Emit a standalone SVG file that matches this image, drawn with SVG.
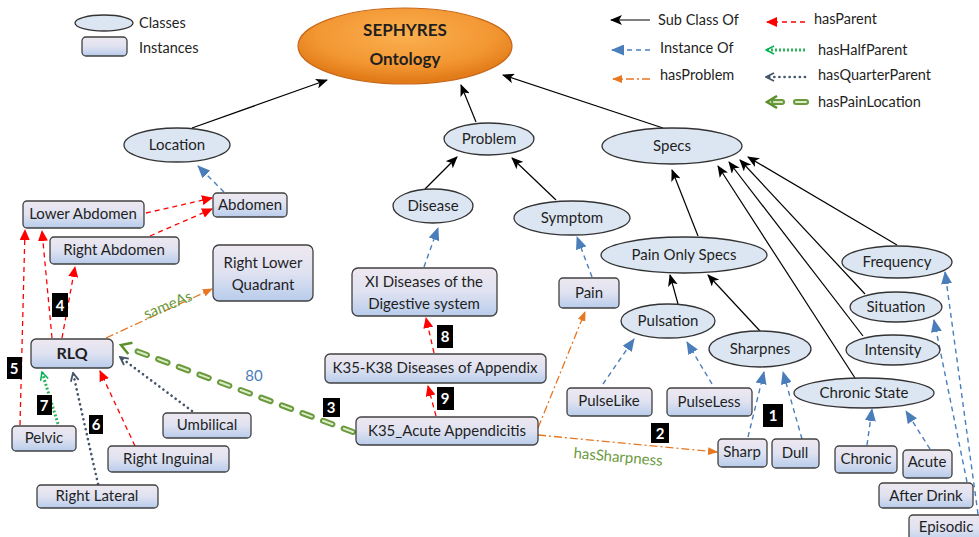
<svg xmlns="http://www.w3.org/2000/svg" width="979" height="537" viewBox="0 0 979 537">
<defs>
<linearGradient id="gInst" x1="0" y1="0" x2="0" y2="1">
<stop offset="0" stop-color="#eee8f0"/><stop offset="0.5" stop-color="#dfe2f1"/><stop offset="1" stop-color="#b8cceb"/>
</linearGradient>
<radialGradient id="gOr" cx="0.5" cy="0.35" r="0.6">
<stop offset="0" stop-color="#fbb050"/><stop offset="0.7" stop-color="#f29632"/><stop offset="1" stop-color="#e27c18"/>
</radialGradient>
<marker id="aK" markerWidth="12" markerHeight="10" refX="11" refY="5" orient="auto" markerUnits="userSpaceOnUse"><path d="M0,0 L12,5 L0,10 L3,5 z" fill="#000"/></marker>
<marker id="aBl" markerWidth="13" markerHeight="11" refX="12" refY="5.5" orient="auto" markerUnits="userSpaceOnUse"><path d="M0,0 L13,5.5 L0,11 z" fill="#4a7ebb"/></marker>
<marker id="aR" markerWidth="11" markerHeight="10" refX="10" refY="5" orient="auto" markerUnits="userSpaceOnUse"><path d="M0,0 L11,5 L0,10 z" fill="#ff0000"/></marker>
<marker id="aO" markerWidth="10" markerHeight="8" refX="9" refY="4" orient="auto" markerUnits="userSpaceOnUse"><path d="M0,0 L10,4 L0,8 z" fill="#e87722"/></marker>
<marker id="aG" markerWidth="10" markerHeight="10" refX="9" refY="5" orient="auto" markerUnits="userSpaceOnUse"><path d="M1,1 L9,5 L1,9" fill="none" stroke="#00b050" stroke-width="1.5"/></marker>
<marker id="aQ" markerWidth="10" markerHeight="10" refX="9" refY="5" orient="auto" markerUnits="userSpaceOnUse"><path d="M1,1 L9,5 L1,9" fill="none" stroke="#44546a" stroke-width="1.8"/></marker>
<marker id="aP" markerWidth="14" markerHeight="14" refX="12" refY="7" orient="auto" markerUnits="userSpaceOnUse"><path d="M2,1 L12,7 L2,13" fill="none" stroke="#5b8f2c" stroke-width="2.5"/></marker>
<style>
text{font-family:"Lato","Noto Sans",sans-serif;font-size:15px;fill:#1f1f1f;text-anchor:middle}
.cls{fill:#dce6f2;stroke:#333;stroke-width:1.3}
.ins{fill:url(#gInst);stroke:#404040;stroke-width:1.3}
.sub{stroke:#000;stroke-width:1.2;fill:none;marker-end:url(#aK)}
.io{stroke:#4a7ebb;stroke-width:1.4;stroke-dasharray:5 4;fill:none;marker-end:url(#aBl)}
.par{stroke:#ff0000;stroke-width:1.3;stroke-dasharray:5 4;fill:none;marker-end:url(#aR)}
.prob{stroke:#e87722;stroke-width:1.3;stroke-dasharray:8 3 2 3;fill:none;marker-end:url(#aO)}
.half{stroke:#2eb35a;stroke-width:3;stroke-dasharray:2 2;fill:none;marker-end:url(#aG)}
.qp{stroke:#44546a;stroke-width:2.6;stroke-dasharray:0.1 5;stroke-linecap:round;fill:none;marker-end:url(#aQ)}
.pl{stroke:#6a9a3c;stroke-width:6;stroke-dasharray:10 12;stroke-linecap:round;fill:none}
.pli{stroke:#dcecc8;stroke-width:2;stroke-dasharray:10 12;stroke-linecap:round;fill:none}
.plh{stroke:none;fill:none;marker-end:url(#aP)}
.bd rect{fill:#000}
.bd text{fill:#fff;font-weight:bold;font-size:15px}
.lg{text-anchor:start;font-size:14.5px}
.gl{fill:#6a9a3c;font-size:15px}
</style>
</defs>
<rect width="979" height="537" fill="#fff"/>

<g id="legend">
<ellipse class="cls" cx="104" cy="23" rx="29" ry="8"/>
<text class="lg" x="139" y="28">Classes</text>
<rect class="ins" x="82" y="37" width="45" height="19" rx="4"/>
<text class="lg" x="139" y="53">Instances</text>
<line class="sub" x1="650" y1="20" x2="611" y2="20"/>
<text class="lg" x="658" y="25">Sub Class Of</text>
<line class="io" x1="650" y1="50" x2="612" y2="50"/>
<text class="lg" x="660" y="53">Instance Of</text>
<line class="prob" x1="650" y1="79" x2="613" y2="79"/>
<text class="lg" x="660" y="80">hasProblem</text>
<line class="par" x1="805" y1="22" x2="767" y2="22"/>
<text class="lg" x="814" y="24">hasParent</text>
<line class="half" x1="805" y1="50" x2="766" y2="50"/>
<text class="lg" x="818" y="55">hasHalfParent</text>
<line class="qp" x1="805" y1="77" x2="766" y2="77"/>
<text class="lg" x="818" y="80">hasQuarterParent</text>
<line class="pl" x1="806" y1="102" x2="796" y2="102" style="stroke-dasharray:none"/>
<line class="pli" x1="806" y1="102" x2="796" y2="102" style="stroke-dasharray:none"/>
<line class="pl" x1="782" y1="102" x2="774" y2="102" style="stroke-dasharray:none"/>
<line class="pli" x1="782" y1="102" x2="774" y2="102" style="stroke-dasharray:none"/>
<line class="plh" x1="790" y1="102" x2="767" y2="102" style="stroke:#5b8f2c;stroke-width:0.1"/>
<text class="lg" x="818" y="107">hasPainLocation</text>
</g>

<g id="connectors">
<line class="sub" x1="192" y1="128" x2="327" y2="80"/>
<line class="sub" x1="476" y1="122" x2="461" y2="85"/>
<line class="sub" x1="663" y1="128" x2="503" y2="75"/>
<line class="sub" x1="425" y1="189" x2="457" y2="157"/>
<line class="sub" x1="556" y1="200" x2="512" y2="158"/>
<line class="sub" x1="698" y1="236" x2="672" y2="170"/>
<line class="sub" x1="678" y1="304" x2="670" y2="275"/>
<line class="sub" x1="760" y1="331" x2="708" y2="275"/>
<line class="sub" x1="855" y1="378" x2="718" y2="166"/>
<line class="sub" x1="863" y1="336" x2="729" y2="162"/>
<line class="sub" x1="865" y1="294" x2="740" y2="160"/>
<line class="sub" x1="897" y1="245" x2="748" y2="157"/>

<line class="io" x1="224" y1="192" x2="198" y2="166"/>
<line class="io" x1="424" y1="267" x2="438" y2="228"/>
<line class="io" x1="592" y1="277" x2="577" y2="237"/>
<line class="io" x1="603" y1="384" x2="634" y2="339"/>
<line class="io" x1="712" y1="384" x2="687" y2="342"/>
<line class="io" x1="748" y1="437" x2="764" y2="372"/>
<line class="io" x1="802" y1="439" x2="783" y2="372"/>
<line class="io" x1="867" y1="445" x2="872" y2="409"/>
<line class="io" x1="930" y1="449" x2="906" y2="411"/>
<line class="io" x1="967" y1="482" x2="934" y2="320"/>
<line class="io" x1="978" y1="514" x2="945" y2="272"/>

<line class="par" x1="146" y1="213" x2="212" y2="198"/>
<line class="par" x1="150" y1="236" x2="212" y2="209"/>
<line class="par" x1="62" y1="338" x2="75" y2="267"/>
<line class="par" x1="52" y1="338" x2="42" y2="231"/>
<line class="par" x1="20" y1="425" x2="25" y2="230"/>
<line class="par" x1="135" y1="446" x2="100" y2="371"/>
<line class="par" x1="434" y1="353" x2="426" y2="318"/>
<line class="par" x1="436" y1="416" x2="428" y2="386"/>

<line class="half" x1="58" y1="424" x2="42" y2="372"/>
<line class="qp" x1="98" y1="484" x2="73" y2="373"/>
<line class="qp" x1="192" y1="411" x2="120" y2="357"/>

<line class="pl" x1="353" y1="432" x2="131" y2="349"/>
<line class="pli" x1="353" y1="432" x2="131" y2="349"/>
<line class="plh" x1="140" y1="352" x2="121" y2="345" style="stroke:#5b8f2c;stroke-width:0.1"/>

<line class="prob" x1="538" y1="428" x2="585" y2="312"/>
<line class="prob" x1="106" y1="338" x2="212" y2="289"/>
<line class="prob" x1="538" y1="435" x2="717" y2="452"/>

<text class="gl" x="168" y="310" transform="rotate(-22 168 305)">sameAs</text>
<text x="254" y="381" style="fill:#4a7ebb;font-size:15px">80</text>
<text class="gl" x="618" y="462" transform="rotate(5 618 458)">hasSharpness</text>
</g>

<g id="sephyres">
<ellipse cx="405" cy="46" rx="107" ry="38" fill="url(#gOr)" stroke="#c8681a" stroke-width="1.2"/>
<text x="405" y="36" style="font-weight:bold;font-size:17px">SEPHYRES</text>
<text x="405" y="65" style="font-weight:bold;font-size:17px">Ontology</text>
</g>

<g id="location"><ellipse class="cls" cx="177" cy="145" rx="53" ry="17"/><text x="177" y="150">Location</text></g>
<g id="problem"><ellipse class="cls" cx="489" cy="139" rx="45" ry="16"/><text x="489" y="144">Problem</text></g>
<g id="disease"><ellipse class="cls" cx="433" cy="206" rx="40" ry="17"/><text x="433" y="211">Disease</text></g>
<g id="symptom"><ellipse class="cls" cx="572" cy="218" rx="58" ry="17"/><text x="572" y="223">Symptom</text></g>
<g id="specs"><ellipse class="cls" cx="672" cy="146" rx="70" ry="18"/><text x="672" y="151">Specs</text></g>
<g id="painonlyspecs"><ellipse class="cls" cx="684" cy="255" rx="83" ry="18"/><text x="684" y="260">Pain Only Specs</text></g>
<g id="pulsation"><ellipse class="cls" cx="668" cy="321" rx="47" ry="17"/><text x="668" y="326">Pulsation</text></g>
<g id="sharpnes"><ellipse class="cls" cx="760" cy="349" rx="51" ry="18"/><text x="760" y="354">Sharpnes</text></g>
<g id="frequency"><ellipse class="cls" cx="897" cy="262" rx="55" ry="16"/><text x="897" y="267">Frequency</text></g>
<g id="situation"><ellipse class="cls" cx="896" cy="307" rx="46" ry="15"/><text x="896" y="312">Situation</text></g>
<g id="intensity"><ellipse class="cls" cx="893" cy="350" rx="47" ry="15"/><text x="893" y="355">Intensity</text></g>
<g id="chronicstate"><ellipse class="cls" cx="864" cy="393" rx="70" ry="15"/><text x="864" y="398">Chronic State</text></g>

<g id="abdomen"><rect class="ins" x="213" y="193" width="74" height="24" rx="4"/><text x="250" y="210">Abdomen</text></g>
<g id="lowerabdomen"><rect class="ins" x="23" y="201" width="121" height="27" rx="4"/><text x="83" y="219">Lower Abdomen</text></g>
<g id="rightabdomen"><rect class="ins" x="50" y="237" width="129" height="27" rx="4"/><text x="114" y="255">Right Abdomen</text></g>
<g id="rlquadrant"><rect class="ins" x="213" y="245" width="100" height="56" rx="6"/><text x="263" y="268">Right Lower</text><text x="263" y="290">Quadrant</text></g>
<g id="rlq"><rect class="ins" x="31" y="339" width="82" height="29" rx="5"/><text x="72" y="359" style="font-weight:bold;font-size:16px">RLQ</text></g>
<g id="pelvic"><rect class="ins" x="12" y="426" width="64" height="25" rx="4"/><text x="44" y="443">Pelvic</text></g>
<g id="rightlateral"><rect class="ins" x="37" y="485" width="121" height="23" rx="4"/><text x="97" y="501">Right Lateral</text></g>
<g id="rightinguinal"><rect class="ins" x="108" y="446" width="121" height="26" rx="4"/><text x="168" y="464">Right Inguinal</text></g>
<g id="umbilical"><rect class="ins" x="163" y="413" width="88" height="25" rx="4"/><text x="207" y="430">Umbilical</text></g>
<g id="xidiseases"><rect class="ins" x="352" y="268" width="145" height="48" rx="6"/><text x="424" y="287">XI Diseases of the</text><text x="424" y="309">Digestive system</text></g>
<g id="pain"><rect class="ins" x="559" y="278" width="60" height="30" rx="4"/><text x="589" y="298">Pain</text></g>
<g id="k35k38"><rect class="ins" x="325" y="354" width="221" height="29" rx="5"/><text x="435" y="373">K35-K38 Diseases of Appendix</text></g>
<g id="k35"><rect class="ins" x="356" y="417" width="182" height="28" rx="5"/><text x="447" y="436">K35_Acute Appendicitis</text></g>
<g id="pulselike"><rect class="ins" x="567" y="388" width="85" height="28" rx="4"/><text x="609" y="406">PulseLike</text></g>
<g id="pulseless"><rect class="ins" x="667" y="388" width="85" height="28" rx="4"/><text x="709" y="407">PulseLess</text></g>
<g id="sharp"><rect class="ins" x="718" y="439" width="49" height="28" rx="4"/><text x="742" y="457">Sharp</text></g>
<g id="dull"><rect class="ins" x="772" y="439" width="47" height="29" rx="4"/><text x="795" y="458">Dull</text></g>
<g id="chronic"><rect class="ins" x="835" y="446" width="62" height="27" rx="4"/><text x="866" y="464">Chronic</text></g>
<g id="acute"><rect class="ins" x="903" y="450" width="49" height="28" rx="4"/><text x="927" y="467">Acute</text></g>
<g id="afterdrink"><rect class="ins" x="879" y="483" width="94" height="25" rx="4"/><text x="926" y="501">After Drink</text></g>
<g id="episodic"><rect class="ins" x="909" y="515" width="78" height="28" rx="4"/><text x="946" y="532">Episodic</text></g>

<g id="badges" class="bd">
<rect x="763" y="404" width="20" height="23"/><text x="773" y="421">1</text>
<rect x="651" y="423" width="18" height="20"/><text x="660" y="439">2</text>
<rect x="323" y="398" width="17" height="19"/><text x="331" y="413">3</text>
<rect x="52" y="293" width="16" height="24"/><text x="60" y="311">4</text>
<rect x="7" y="357" width="15" height="22"/><text x="14" y="374">5</text>
<rect x="89" y="415" width="14" height="19"/><text x="96" y="430">6</text>
<rect x="37" y="395" width="15" height="20"/><text x="44" y="411">7</text>
<rect x="437" y="325" width="16" height="23"/><text x="445" y="342">8</text>
<rect x="437" y="387" width="17" height="23"/><text x="445" y="404">9</text>
</g>
</svg>
